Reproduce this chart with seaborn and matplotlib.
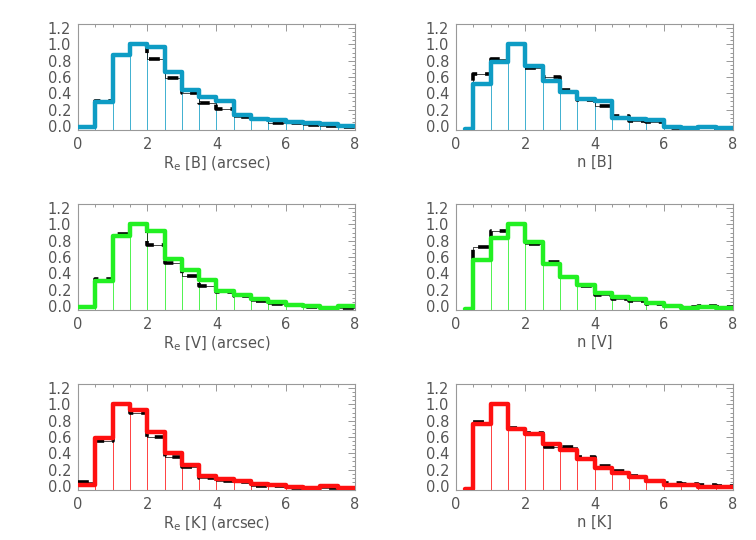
import numpy as np
import pandas as pd
import matplotlib
matplotlib.use("Agg")
import matplotlib.pyplot as plt
from matplotlib.ticker import MultipleLocator, FormatStrFormatter
import seaborn as sns

sns.set_style("white")
plt.rcParams['font.family'] = ['DejaVu Sans']
plt.rcParams['mathtext.default'] = 'regular'

# bin edges
edges_re = [0.0, 0.5, 1.0, 1.5, 2.0, 2.5, 3.0, 3.5, 4.0, 4.5, 5.0, 5.5, 6.0, 6.5, 7.0, 7.5, 8.0]
edges_n = [0.25, 0.5, 1.0, 1.5, 2.0, 2.5, 3.0, 3.5, 4.0, 4.5, 5.0, 5.5, 6.0, 6.5, 7.0, 7.5, 8.0]

# Re histograms (coloured = thick solid, black = dashed)
re_B = [-0.01, 0.29, 0.865, 1.0, 0.97, 0.66, 0.44, 0.35, 0.31, 0.14, 0.09, 0.07, 0.05, 0.04, 0.02, 0.0]
re_B_d = [-0.01, 0.31, 0.865, 1.0, 0.82, 0.59, 0.40, 0.28, 0.21, 0.11, 0.08, 0.04, 0.03, 0.01, 0.0, -0.01]
re_V = [-0.01, 0.30, 0.857, 1.0, 0.925, 0.58, 0.44, 0.32, 0.18, 0.14, 0.09, 0.05, 0.01, 0.0, -0.02, 0.0]
re_V_d = [-0.01, 0.33, 0.885, 1.0, 0.745, 0.53, 0.37, 0.24, 0.17, 0.12, 0.055, 0.02, 0.01, -0.01, -0.03, -0.02]
re_K = [0.015, 0.59, 1.0, 0.935, 0.66, 0.40, 0.255, 0.12, 0.09, 0.055, 0.02, 0.01, -0.01, -0.02, 0.0, -0.03]
re_K_d = [0.05, 0.555, 1.0, 0.90, 0.595, 0.36, 0.23, 0.10, 0.065, 0.05, 0.0, 0.0, -0.02, -0.02, -0.02, -0.03]

# n histograms
n_B = [-0.04, 0.52, 0.79, 1.0, 0.74, 0.55, 0.42, 0.33, 0.30, 0.095, 0.08, 0.07, -0.01, -0.03, -0.01, -0.02]
n_B_d = [-0.04, 0.635, 0.82, 1.0, 0.71, 0.60, 0.44, 0.32, 0.25, 0.12, 0.055, 0.05, -0.02, -0.03, -0.015, -0.035]
n_V = [-0.04, 0.565, 0.83, 1.0, 0.78, 0.52, 0.36, 0.26, 0.16, 0.11, 0.08, 0.03, 0.0, -0.02, -0.01, -0.02]
n_V_d = [-0.04, 0.72, 0.92, 1.0, 0.76, 0.54, 0.35, 0.25, 0.14, 0.09, 0.065, 0.025, 0.0, -0.01, 0.0, -0.015]
n_K = [-0.04, 0.76, 1.0, 0.695, 0.64, 0.51, 0.44, 0.33, 0.22, 0.16, 0.11, 0.055, 0.01, 0.01, -0.01, -0.01]
n_K_d = [-0.04, 0.79, 1.0, 0.71, 0.655, 0.48, 0.48, 0.36, 0.245, 0.18, 0.12, 0.065, 0.03, 0.025, 0.01, 0.0]

xlabels_re = ["R$_e$ [B] (arcsec)", "R$_e$ [V] (arcsec)", "R$_e$ [K] (arcsec)"]
xlabels_n = ["n [B]", "n [V]", "n [K]"]
colors = ["#0e9cc4", "#22f022", "#ff1010"]

panels = [
    [(edges_re, re_B, re_B_d), (edges_n, n_B, n_B_d)],
    [(edges_re, re_V, re_V_d), (edges_n, n_V, n_V_d)],
    [(edges_re, re_K, re_K_d), (edges_n, n_K, n_K_d)],
]

W, H = 756, 540
fig = plt.figure(figsize=(W / 100, H / 100), dpi=100)

lefts = [78, 456]
tops = [24, 204, 384]
aw, ah = 277, 106
txtc = "#555555"
ybot = -0.05

for r in range(3):
    for c in range(2):
        edges, solid, dashed = panels[r][c]
        col = colors[r]
        ax = fig.add_axes([lefts[c] / W, 1 - (tops[r] + ah) / H, aw / W, ah / H])
        # thin vertical bin-edge lines (interior edges of the coloured histogram)
        inner_x = edges[1:-1]
        inner_h = [max(solid[i], solid[i + 1]) for i in range(len(solid) - 1)]
        ax.vlines(inner_x, ybot, inner_h, color=col, linewidth=0.7, alpha=0.8, zorder=2)
        # dashed black histogram
        xs = list(edges)
        yd = list(dashed) + [dashed[-1]]
        ax.step(xs, yd, where="post", color="black", linewidth=0.5, zorder=3)
        ax.step(xs, yd, where="post", color="black", linewidth=2.6,
                dashes=(3.0, 2.2), zorder=3)
        # thick coloured histogram
        df = pd.DataFrame({"x": xs, "y": list(solid) + [solid[-1]]})
        sns.lineplot(data=df, x="x", y="y", drawstyle="steps-post", color=col,
                     linewidth=3.2, ax=ax, zorder=4, sort=False)

        ax.set_xlim(0, 8)
        ax.set_ylim(ybot, 1.25)
        ax.xaxis.set_major_locator(MultipleLocator(2))
        ax.xaxis.set_minor_locator(MultipleLocator(0.5))
        ax.yaxis.set_major_locator(MultipleLocator(0.2))
        ax.yaxis.set_minor_locator(MultipleLocator(0.05))
        ax.yaxis.set_major_formatter(FormatStrFormatter("%.1f"))
        ax.xaxis.set_major_formatter(FormatStrFormatter("%d"))
        ax.tick_params(which="both", direction="in", top=True, right=True,
                       color="#888888", labelcolor=txtc, labelsize=10.5, width=0.6)
        ax.tick_params(which="major", length=5, pad=5)
        ax.tick_params(which="minor", length=2.5)
        for s in ax.spines.values():
            s.set_color("#999999")
            s.set_linewidth(0.8)
        ax.set_ylabel("")
        xl = xlabels_re[r] if c == 0 else xlabels_n[r]
        ax.set_xlabel(xl, color=txtc, fontsize=10.5, labelpad=2)

fig.savefig("out.png", dpi=100)
